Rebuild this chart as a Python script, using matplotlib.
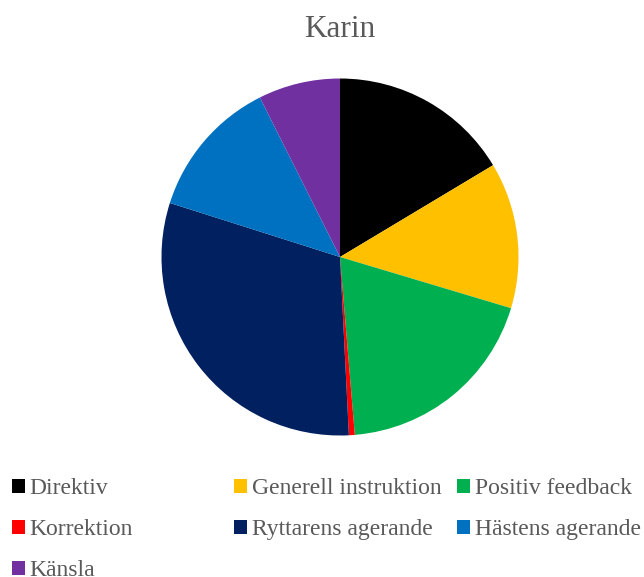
import matplotlib as mpl
mpl.use('Agg')
import matplotlib.pyplot as plt

labels = ["Direktiv", "Generell instruktion", "Positiv feedback", "Korrektion",
          "Ryttarens agerande", "Hästens agerande", "Känsla"]
counts = [31, 25, 36, 1, 58, 24, 14]
colors = ["#000000", "#FFC000", "#00B050", "#FF0000", "#002060", "#0070C0", "#7030A0"]

W, H = 644, 577
fig = plt.figure(figsize=(W / 100, H / 100), dpi=100)

# pie centre and radius in pixels
cx, cy, r = 340, 257, 178.5
ax = fig.add_axes([(cx - r) / W, (H - cy - r) / H, 2 * r / W, 2 * r / H])
wedges, _ = ax.pie(counts, colors=colors, startangle=90, counterclock=False,
                   wedgeprops=dict(linewidth=0))
ax.set_xlim(-1, 1)
ax.set_ylim(-1, 1)
ax.set_aspect('equal')
ax.axis('off')

fig.text(cx / W, 1 - 37 / H, "Karin", ha='center', va='baseline', fontsize=22.5,
         family='Liberation Serif', color='#595959')

# three legend columns, like the Excel layout
cols = [([0, 3, 6], 12), ([1, 4], 234), ([2, 5], 457)]
for idx, x0 in cols:
    leg = fig.legend([wedges[i] for i in idx], [labels[i] for i in idx],
                     loc='upper left', bbox_to_anchor=(x0 / W, 1 - 478 / H),
                     frameon=False, borderpad=0, borderaxespad=0,
                     handlelength=0.55, handleheight=0.55, handletextpad=0.2,
                     labelspacing=0.85,
                     prop=dict(family='Liberation Serif', size=17))
    for t in leg.get_texts():
        t.set_color('#595959')

fig.savefig("out.png", dpi=100)
